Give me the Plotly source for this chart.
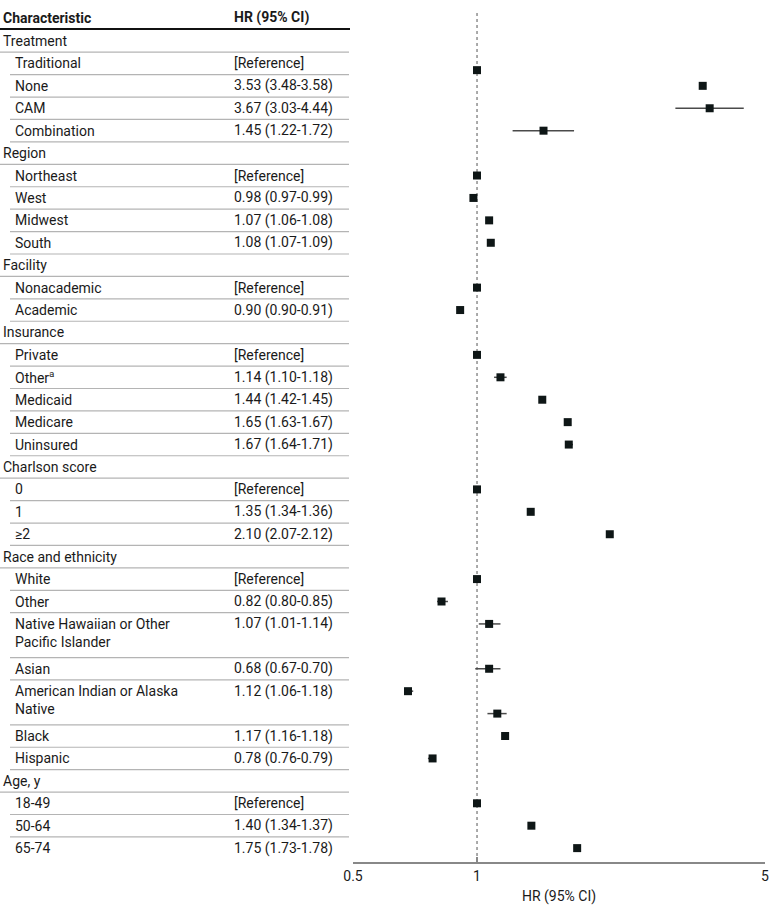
import plotly.graph_objects as go
import numpy as np

# ---------------- table data ----------------
row_labels = [
    "Treatment", "Traditional", "None", "CAM", "Combination",
    "Region", "Northeast", "West", "Midwest", "South",
    "Facility", "Nonacademic", "Academic",
    "Insurance", "Private", "Other<sup>a</sup>", "Medicaid", "Medicare", "Uninsured",
    "Charlson score", "0", "1", "≥2",
    "Race and ethnicity", "White", "Other", "Native Hawaiian or Other<br>Pacific Islander",
    "Asian", "American Indian or Alaska<br>Native", "Black", "Hispanic",
    "Age, y", "18-49", "50-64", "65-74",
]
row_hr_text = [
    "", "[Reference]", "3.53 (3.48-3.58)", "3.67 (3.03-4.44)", "1.45 (1.22-1.72)",
    "", "[Reference]", "0.98 (0.97-0.99)", "1.07 (1.06-1.08)", "1.08 (1.07-1.09)",
    "", "[Reference]", "0.90 (0.90-0.91)",
    "", "[Reference]", "1.14 (1.10-1.18)", "1.44 (1.42-1.45)", "1.65 (1.63-1.67)", "1.67 (1.64-1.71)",
    "", "[Reference]", "1.35 (1.34-1.36)", "2.10 (2.07-2.12)",
    "", "[Reference]", "0.82 (0.80-0.85)", "1.07 (1.01-1.14)",
    "0.68 (0.67-0.70)", "1.12 (1.06-1.18)", "1.17 (1.16-1.18)", "0.78 (0.76-0.79)",
    "", "[Reference]", "1.40 (1.34-1.37)", "1.75 (1.73-1.78)",
]
row_is_group = [
    True, False, False, False, False,
    True, False, False, False, False,
    True, False, False,
    True, False, False, False, False, False,
    True, False, False, False,
    True, False, False, False, False, False, False, False,
    True, False, False, False,
]
row_line_count = [1] * len(row_labels)
row_line_count[row_labels.index("Native Hawaiian or Other<br>Pacific Islander")] = 2
row_line_count[row_labels.index("American Indian or Alaska<br>Native")] = 2

# ---------------- plotted markers (as drawn in the figure) ----------------
marker_row = [1.3, 2, 3, 4, 6, 7, 8, 9, 11, 12, 14, 15, 16, 17, 18, 20, 21, 22,
              24, 25, 26, 28, 29, 30, 31, 32, 34, 35, 36]
marker_hr = [1.00, 3.53, 3.67, 1.45, 1.00, 0.98, 1.07, 1.08, 1.00, 0.91, 1.00, 1.14, 1.44, 1.66, 1.67,
             1.00, 1.35, 2.10, 1.00, 0.82, 1.07, 1.07, 0.68, 1.12, 1.17, 0.78, 1.00, 1.355, 1.75]
marker_lo = [1.00, 3.48, 3.03, 1.22, 1.00, 0.97, 1.06, 1.07, 1.00, 0.90, 1.00, 1.10, 1.42, 1.63, 1.64,
             1.00, 1.34, 2.07, 1.00, 0.80, 1.01, 0.99, 0.67, 1.06, 1.16, 0.76, 1.00, 1.34, 1.73]
marker_hi = [1.00, 3.58, 4.44, 1.72, 1.00, 0.99, 1.08, 1.09, 1.00, 0.91, 1.00, 1.18, 1.45, 1.67, 1.71,
             1.00, 1.36, 2.12, 1.00, 0.85, 1.14, 1.14, 0.70, 1.18, 1.18, 0.79, 1.00, 1.37, 1.78]

x_tickvals = [0.5, 1, 5]
x_ticktext = ["0.5", "1", "5"]

# ---------------- layout geometry ----------------
W, H = 780, 914
UNIT_PX = 22.42
FIRST_PX = 41.0
AXIS_PX = 862.0
y_top = -FIRST_PX / UNIT_PX
y_bot = (AXIS_PX - FIRST_PX) / UNIT_PX
plot_x0, plot_x1 = 353 / W, 765 / W

FONT = "Roboto"
TXT = "#1a1a1a"
FS = 14

row_start = np.concatenate([[0], np.cumsum(row_line_count)[:-1]]).astype(float)

fig = go.Figure()

hr = np.array(marker_hr)
fig.add_trace(go.Scatter(
    x=marker_hr, y=marker_row, mode="markers",
    marker=dict(symbol="square", size=8, color="#0e1616"),
    error_x=dict(type="data", symmetric=False,
                 array=list(np.array(marker_hi) - hr),
                 arrayminus=list(hr - np.array(marker_lo)),
                 thickness=1.5, width=0, color="#4a4a4a"),
    showlegend=False, hoverinfo="skip",
))

annotations = []
shapes = []

# header
annotations.append(dict(x=1 / W, y=-1.03, xref="paper", yref="y", text="<b>Characteristic</b>",
                        showarrow=False, xanchor="left", yanchor="middle",
                        font=dict(family=FONT, size=FS, color=TXT)))
annotations.append(dict(x=232 / W, y=-1.03, xref="paper", yref="y", text="<b>HR (95% CI)</b>",
                        showarrow=False, xanchor="left", yanchor="middle",
                        font=dict(family=FONT, size=FS, color=TXT)))
shapes.append(dict(type="line", xref="paper", yref="y", x0=0, x1=350 / W,
                   y0=-0.54, y1=-0.54, line=dict(color="#111111", width=2)))

for i, lab in enumerate(row_labels):
    start = row_start[i]
    n = row_line_count[i]
    ycen = start + (0.4 if n == 2 else 0.0)
    xl = 1 / W if row_is_group[i] else 13 / W
    annotations.append(dict(x=xl, y=ycen, xref="paper", yref="y", text=lab, showarrow=False,
                            xanchor="left", yanchor="middle", align="left",
                            font=dict(family=FONT, size=FS, color=TXT)))
    if row_hr_text[i]:
        annotations.append(dict(x=232 / W, y=start, xref="paper", yref="y", text=row_hr_text[i],
                                showarrow=False, xanchor="left", yanchor="middle",
                                font=dict(family=FONT, size=FS, color=TXT)))
    if i < len(row_labels) - 1:
        yb = start + n - 0.5
        xs = 0 if row_is_group[i] else 10 / W
        shapes.append(dict(type="line", xref="paper", yref="y", x0=xs, x1=349 / W,
                           y0=yb, y1=yb, line=dict(color="#b4b4b4", width=1.2)))

# reference line at HR = 1
shapes.append(dict(type="line", xref="x", yref="paper", x0=1, x1=1,
                   y0=(H - AXIS_PX) / H, y1=1 - 13 / H,
                   line=dict(color="#555555", width=1, dash="dot"), layer="below"))

fig.update_layout(
    width=W, height=H,
    margin=dict(l=0, r=0, t=0, b=0),
    paper_bgcolor="white", plot_bgcolor="white",
    font=dict(family=FONT, size=FS, color=TXT),
    annotations=annotations, shapes=shapes,
    xaxis=dict(type="log", range=[np.log10(0.5), np.log10(5)],
               domain=[plot_x0, plot_x1], anchor="y",
               tickvals=x_tickvals, ticktext=x_ticktext,
               ticks="inside", ticklen=5, tickcolor="#888888", tickwidth=1.5,
               showline=True, linecolor="#888888", linewidth=1.5,
               showgrid=False, zeroline=False,
               tickfont=dict(family=FONT, size=FS, color=TXT),
               title=dict(text="HR (95% CI)", standoff=9,
                          font=dict(family=FONT, size=FS, color=TXT)),
               automargin=False, fixedrange=True),
    yaxis=dict(range=[y_bot, y_top], domain=[(H - AXIS_PX) / H, 1],
               visible=False, showgrid=False, zeroline=False, fixedrange=True),
)

fig.write_html("out.html")
